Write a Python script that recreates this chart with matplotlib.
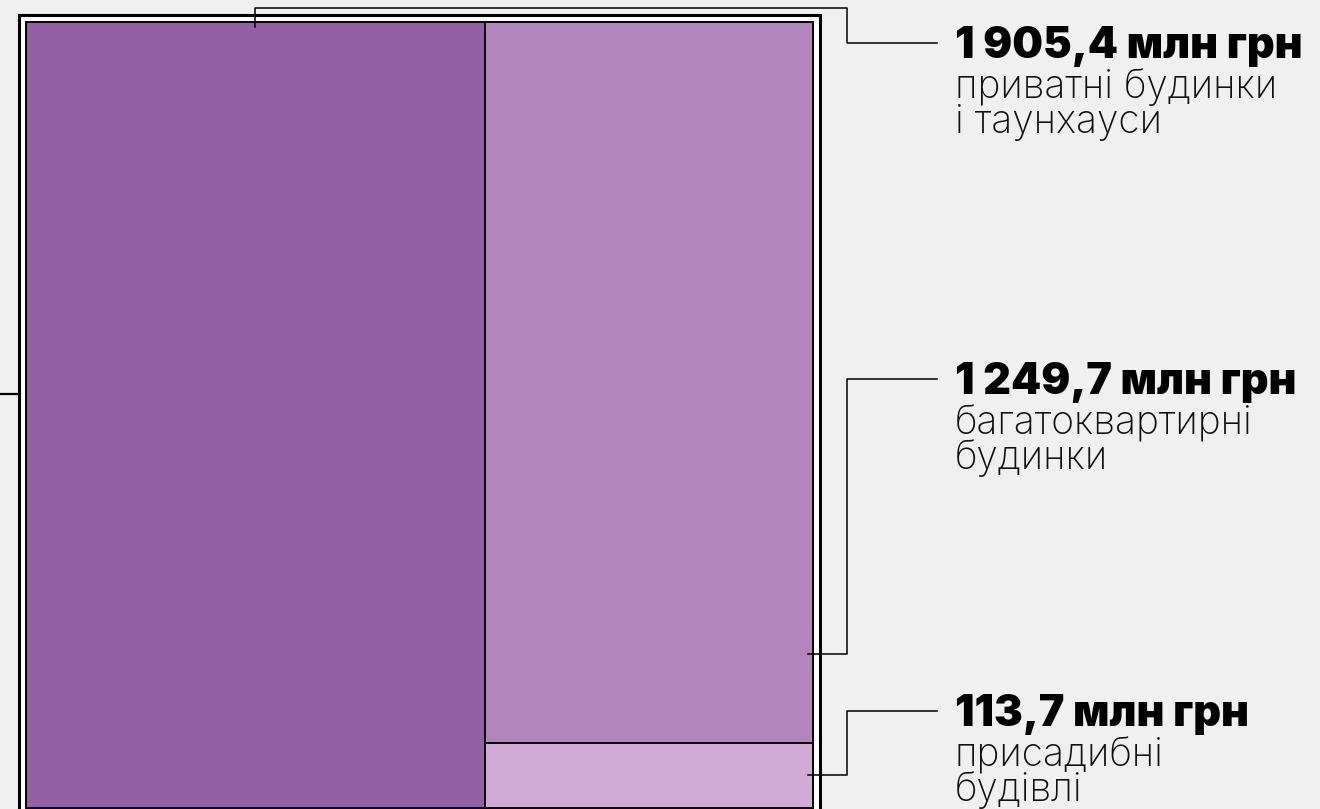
import matplotlib
matplotlib.use('Agg')
from matplotlib import pyplot as plt
from matplotlib.patches import Rectangle

# values, mln UAH
values = [1905.4, 1249.7, 113.7]
amounts = ['1 905,4 млн грн', '1 249,7 млн грн', '113,7 млн грн']
names = [['приватні будинки', 'і таунхауси'],
         ['багатоквартирні', 'будинки'],
         ['присадибні', 'будівлі']]
colors = ['#9360a6', '#b286bc', '#cfabd5']

BG = '#f1f0f0'
BOLD_FONT = ['Inter', 'DejaVu Sans']
LIGHT_FONT = ['Inter', 'DejaVu Sans']

fig = plt.figure(figsize=(13.2, 8.09), dpi=100)
fig.patch.set_facecolor(BG)
ax = fig.add_axes([0, 0, 1, 1])
ax.set_xlim(0, 1320)
ax.set_ylim(809, 0)
ax.axis('off')

# treemap area (pixel units of the figure)
X0, Y0, W, H = 26, 21.6, 787, 786.5
total = sum(values)

# outer frame
ax.add_patch(Rectangle((19, 15), 801, 799, facecolor='white',
                       edgecolor='black', lw=2.2, zorder=1))

# slice: first item takes a full-height column, the rest stack on the right
w0 = W * values[0] / total
rects = [(X0, Y0, w0, H)]
rest = sum(values[1:])
y = Y0
for v in values[1:]:
    h = H * v / rest
    rects.append((X0 + w0, y, W - w0, h))
    y += h

for (x, yy, w, h), c in zip(rects, colors):
    ax.add_patch(Rectangle((x, yy), w, h, facecolor=c, edgecolor='black',
                           lw=1.4, zorder=2))

# leader lines: anchor inside the rect -> label
TX = 955
CORNER = 847
LEND = 937
label_y = [43, 379, 711]

r = rects[0]
ax.plot([r[0] + r[2] / 2, r[0] + r[2] / 2, CORNER, CORNER, LEND],
        [Y0 + 5, 8, 8, label_y[0], label_y[0]], color='black', lw=1.1, zorder=3)
anchors_y = [None, rects[1][1] + rects[1][3] * 0.877, rects[2][1] + rects[2][3] / 2]
for i in (1, 2):
    x_in = rects[i][0] + rects[i][2] - 5
    ax.plot([x_in, CORNER, CORNER, LEND],
            [anchors_y[i], anchors_y[i], label_y[i], label_y[i]],
            color='black', lw=1.1, zorder=3)

# stub of a leader coming in from the left
ax.plot([0, 19], [394, 394], color='black', lw=1.6, zorder=3)

for i in range(3):
    ly = label_y[i]
    ax.text(TX, ly + 15, amounts[i], fontsize=31, fontweight='black',
            family=BOLD_FONT, color='black', va='baseline', ha='left')
    ax.text(TX, ly + 55, names[i][0], fontsize=28, fontweight='light',
            family=LIGHT_FONT, color='#111111', va='baseline', ha='left')
    ax.text(TX, ly + 90, names[i][1], fontsize=28, fontweight='light',
            family=LIGHT_FONT, color='#111111', va='baseline', ha='left')

fig.savefig('out.png', dpi=100, facecolor=BG)
